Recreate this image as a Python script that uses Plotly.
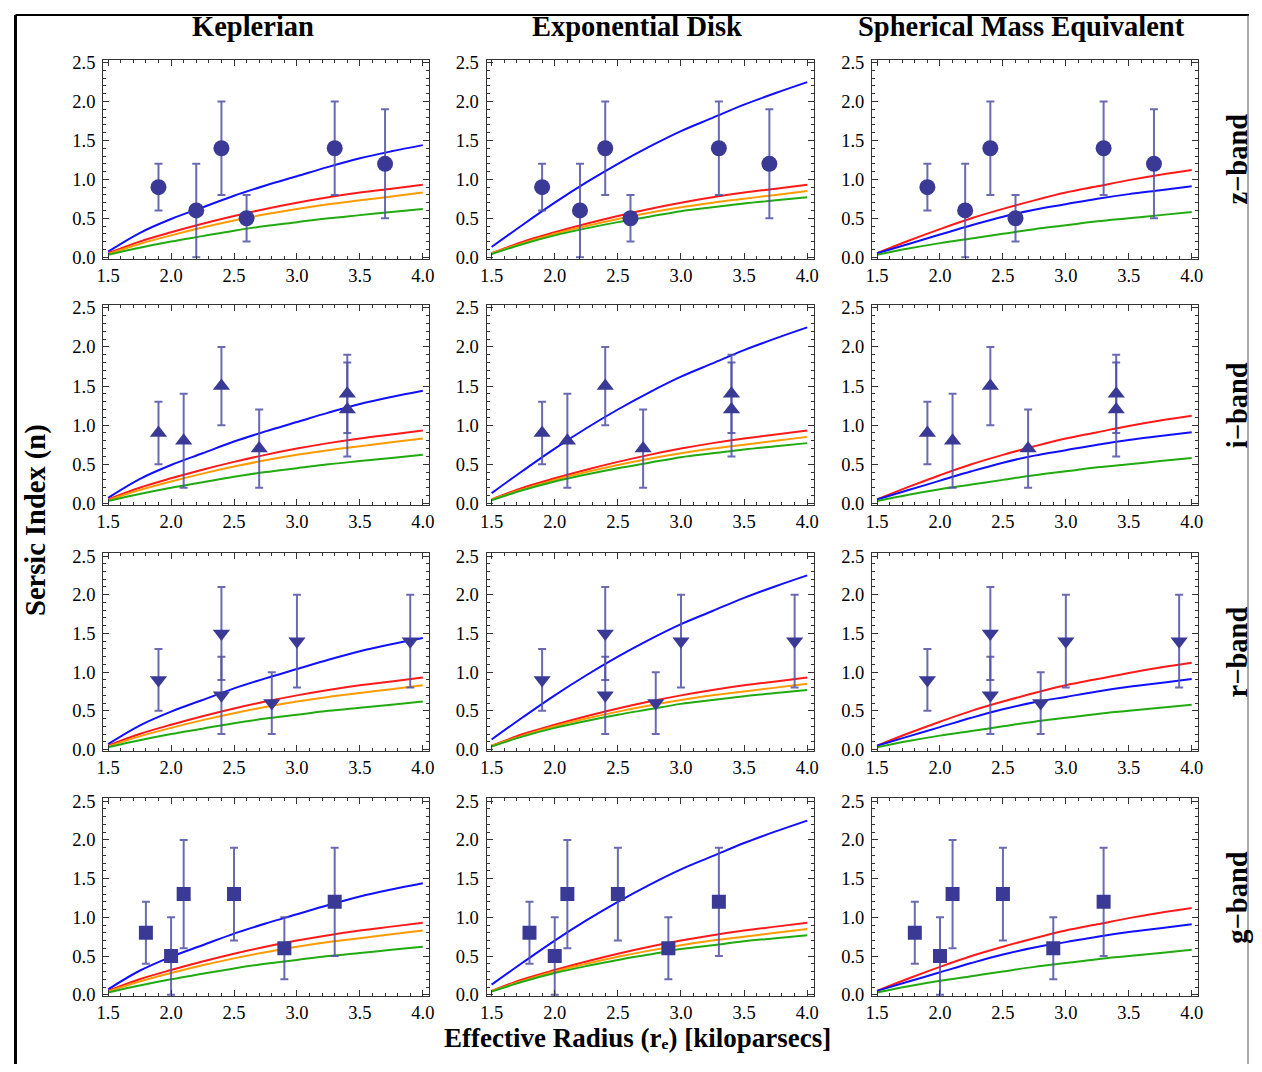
import plotly.graph_objects as go

# ---------------- data ----------------
x_grid = [1.5, 1.75, 2.0, 2.25, 2.5, 2.75, 3.0, 3.25, 3.5, 3.75, 4.0]

# Keplerian model curves
kep_blue = [0.07, 0.31, 0.49, 0.64, 0.79, 0.92, 1.04, 1.16, 1.27, 1.36, 1.44]
kep_red = [0.05, 0.20, 0.32, 0.43, 0.53, 0.62, 0.70, 0.77, 0.83, 0.88, 0.93]
kep_orange = [0.04, 0.17, 0.28, 0.38, 0.47, 0.55, 0.62, 0.68, 0.73, 0.78, 0.83]
kep_green = [0.03, 0.12, 0.20, 0.27, 0.34, 0.40, 0.45, 0.50, 0.54, 0.58, 0.62]

# Exponential disk model curves
exp_blue = [0.13, 0.42, 0.70, 0.96, 1.20, 1.42, 1.62, 1.79, 1.96, 2.11, 2.25]
exp_red = [0.05, 0.20, 0.32, 0.43, 0.53, 0.62, 0.70, 0.77, 0.83, 0.88, 0.93]
exp_orange = [0.05, 0.18, 0.30, 0.40, 0.49, 0.57, 0.64, 0.70, 0.75, 0.80, 0.85]
exp_green = [0.04, 0.17, 0.28, 0.37, 0.45, 0.52, 0.59, 0.64, 0.69, 0.73, 0.77]

# Spherical mass equivalent model curves
sph_red = [0.05, 0.21, 0.36, 0.50, 0.62, 0.73, 0.83, 0.91, 0.99, 1.06, 1.12]
sph_blue = [0.05, 0.17, 0.29, 0.41, 0.52, 0.61, 0.68, 0.75, 0.81, 0.86, 0.91]
sph_green = [0.03, 0.11, 0.18, 0.24, 0.30, 0.36, 0.41, 0.46, 0.50, 0.54, 0.58]

# Observations per band: x, n, lower, upper
z_x = [1.9, 2.2, 2.4, 2.6, 3.3, 3.7]
z_n = [0.9, 0.6, 1.4, 0.5, 1.4, 1.2]
z_lo = [0.6, 0.0, 0.8, 0.2, 0.8, 0.5]
z_hi = [1.2, 1.2, 2.0, 0.8, 2.0, 1.9]

i_x = [1.9, 2.1, 2.4, 2.7, 3.4, 3.4]
i_n = [0.9, 0.8, 1.5, 0.7, 1.4, 1.2]
i_lo = [0.5, 0.2, 1.0, 0.2, 0.9, 0.6]
i_hi = [1.3, 1.4, 2.0, 1.2, 1.9, 1.8]

r_x = [1.9, 2.4, 2.4, 2.8, 3.0, 3.9]
r_n = [0.9, 1.5, 0.7, 0.6, 1.4, 1.4]
r_lo = [0.5, 0.9, 0.2, 0.2, 0.8, 0.8]
r_hi = [1.3, 2.1, 1.2, 1.0, 2.0, 2.0]

g_x = [1.8, 2.0, 2.1, 2.5, 2.9, 3.3]
g_n = [0.8, 0.5, 1.3, 1.3, 0.6, 1.2]
g_lo = [0.4, 0.0, 0.6, 0.7, 0.2, 0.5]
g_hi = [1.2, 1.0, 2.0, 1.9, 1.0, 1.9]

col_titles = ["Keplerian", "Exponential Disk", "Spherical Mass Equivalent"]
row_titles = ["z\u2212band", "i\u2212band", "r\u2212band", "g\u2212band"]
x_ticks = [1.5, 2.0, 2.5, 3.0, 3.5, 4.0]
y_ticks = [0.0, 0.5, 1.0, 1.5, 2.0, 2.5]
x_title = "Effective Radius (r\u2091) [kiloparsecs]"
y_title = "Sersic Index (n)"

# ---------------- styling / layout ----------------
W, H = 1246, 1056
AX, SX = 14.0, 0.990        # screen = AX + SX * figure pixel
AY, SY = 14.5, 0.985
FONT = "Liberation Serif, Times New Roman, serif"
BLUE, RED, ORANGE, GREEN = "#1010ff", "#ff1a1a", "#ff9a00", "#22aa11"
MARK = "#3a3a96"
ERR = "rgba(80,80,165,0.85)"
BIG = 28.5


def px(x):
    return ((x - AX) / SX) / W


def py(y):
    return 1 - ((y - AY) / SY) / H


models = [
    [(kep_blue, BLUE), (kep_red, RED), (kep_orange, ORANGE), (kep_green, GREEN)],
    [(exp_blue, BLUE), (exp_red, RED), (exp_orange, ORANGE), (exp_green, GREEN)],
    [(sph_red, RED), (sph_blue, BLUE), (sph_green, GREEN)],
]
bands = [
    (z_x, z_n, z_lo, z_hi, "circle", 16),
    (i_x, i_n, i_lo, i_hi, "triangle-up", 15),
    (r_x, r_n, r_lo, r_hi, "triangle-down", 15),
    (g_x, g_n, g_lo, g_hi, "square", 14),
]

col_px = [(103, 429), (486, 813), (871, 1197)]
row_px = [(60, 259), (305, 505), (553, 751), (798, 996)]
title_x = [253, 636, 1020]

fig = go.Figure()
layout = dict(
    width=W, height=H,
    margin=dict(l=0, r=0, t=0, b=0),
    paper_bgcolor="white", plot_bgcolor="white",
    showlegend=False,
    font=dict(family=FONT, color="black", size=18),
)

for r in range(4):
    bx, bn, blo, bhi, sym, msz = bands[r]
    for c in range(3):
        k = r * 3 + c + 1
        xa = "x" if k == 1 else f"x{k}"
        ya = "y" if k == 1 else f"y{k}"
        for vals, col in models[c]:
            fig.add_trace(go.Scatter(
                x=x_grid, y=vals, mode="lines", xaxis=xa, yaxis=ya,
                line=dict(color=col, width=2, shape="spline", smoothing=1.0),
                hoverinfo="skip"))
        fig.add_trace(go.Scatter(
            x=bx, y=bn, mode="markers", xaxis=xa, yaxis=ya,
            marker=dict(symbol=sym, size=msz, color=MARK, line=dict(width=0)),
            error_y=dict(type="data", symmetric=False,
                         array=[h - v for h, v in zip(bhi, bn)],
                         arrayminus=[v - l for l, v in zip(blo, bn)],
                         color=ERR, thickness=2, width=4)))
        x0, x1 = col_px[c]
        y0, y1 = row_px[r]
        axcommon = dict(showgrid=False, zeroline=False, showline=True,
                        linecolor="#333333", linewidth=1, mirror="ticks",
                        ticks="inside", ticklen=6, tickwidth=1, tickcolor="#333333",
                        tickfont=dict(family=FONT, size=18.5, color="black"),
                        minor=dict(ticks="inside", ticklen=3, dtick=0.1,
                                   tickcolor="#333333", tickwidth=1))
        layout["xaxis" if k == 1 else f"xaxis{k}"] = dict(
            axcommon, domain=[px(x0), px(x1)], anchor=ya,
            range=[1.46, 4.053], tickvals=x_ticks, ticklabelstandoff=0,
            ticktext=[f"{v:.1f}" for v in x_ticks])
        layout["yaxis" if k == 1 else f"yaxis{k}"] = dict(
            axcommon, domain=[py(y1), py(y0)], anchor=xa,
            range=[-0.02, 2.54], tickvals=y_ticks, ticklabelstandoff=3,
            ticktext=[f"{v:.1f}" for v in y_ticks])

ann = []
for c, t in enumerate(col_titles):
    ann.append(dict(text=f"<b>{t}</b>", x=px(title_x[c]), y=py(27),
                    xref="paper", yref="paper", showarrow=False,
                    xanchor="center", yanchor="middle",
                    font=dict(family=FONT, size=BIG, color="black")))
for r, t in enumerate(row_titles):
    ann.append(dict(text=f"<b>{t}</b>", x=px(1236),
                    y=py((row_px[r][0] + row_px[r][1]) / 2),
                    xref="paper", yref="paper", showarrow=False, textangle=-90,
                    xanchor="center", yanchor="middle",
                    font=dict(family=FONT, size=BIG, color="black")))
ann.append(dict(text=f"<b>{x_title}</b>", x=px(637), y=py(1038),
                xref="paper", yref="paper", showarrow=False,
                xanchor="center", yanchor="middle",
                font=dict(family=FONT, size=27, color="black")))
ann.append(dict(text=f"<b>{y_title}</b>", x=px(36), y=py(520),
                xref="paper", yref="paper", showarrow=False, textangle=-90,
                xanchor="center", yanchor="middle",
                font=dict(family=FONT, size=BIG, color="black")))
layout["annotations"] = ann
layout["shapes"] = [
    dict(type="line", xref="paper", yref="paper",
         x0=1.5 / W, x1=1.5 / W, y0=-0.05, y1=1 - 1 / H,
         line=dict(color="black", width=3)),
    dict(type="line", xref="paper", yref="paper",
         x0=1.5 / W, x1=1, y0=1 - 1 / H, y1=1 - 1 / H,
         line=dict(color="black", width=2)),
    dict(type="line", xref="paper", yref="paper",
         x0=1 - 1 / W, x1=1 - 1 / W, y0=-0.05, y1=1 - 1 / H,
         line=dict(color="#555555", width=1)),
]

fig.update_layout(**layout)
fig.write_html("out.html")
